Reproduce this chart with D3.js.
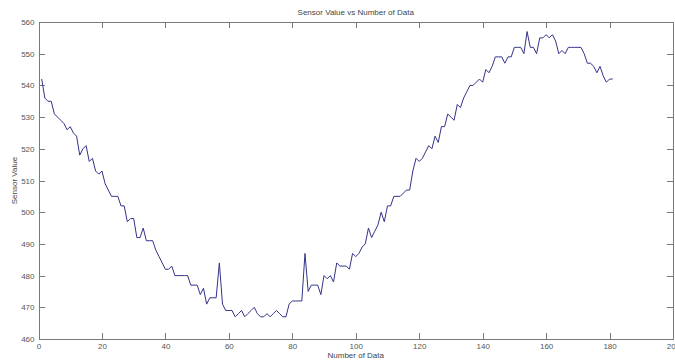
<!DOCTYPE html>
<html>
<head>
<meta charset="utf-8">
<script src="https://cdn.jsdelivr.net/npm/d3@7"></script>
<style>
  body { margin: 0; background: #fff; }
  svg { display: block; font-family: "Liberation Sans", Arial, sans-serif; }
  .axis path, .axis line { stroke: #7a7a7a; shape-rendering: crispEdges; }
  .axis text { fill: #555; font-size: 8px; }
</style>
</head>
<body>
<svg id="chart" width="675" height="361"></svg>
<script>
// sensor readings, sample 1..181
const sensorValues = [
  542, 536, 535, 535, 531, 530, 529, 528, 526, 527,
  525, 524, 518, 520, 521, 516, 517, 513, 512, 513,
  509, 507, 505, 505, 505, 502, 502, 497, 498, 498,
  492, 492, 495, 491, 491, 491, 488, 486, 484, 482,
  482, 483, 480, 480, 480, 480, 480, 477, 477, 477,
  474, 476, 471, 473, 473, 473, 484, 471, 469, 469,
  469, 467, 468, 469, 467, 468, 469, 470, 468, 467,
  467, 468, 467, 468, 469, 468, 467, 467, 471, 472,
  472, 472, 472, 487, 475, 477, 477, 477, 474, 480,
  479, 480, 478, 484, 483, 483, 483, 482, 487, 486,
  487, 489, 490, 495, 492, 494, 496, 500, 497, 502,
  502, 505, 505, 505, 506, 507, 507, 513, 517, 516,
  517, 519, 521, 520, 524, 522, 527, 527, 531, 530,
  529, 534, 533, 536, 538, 540, 540, 541, 542, 541,
  545, 544, 546, 549, 549, 549, 547, 549, 549, 552,
  552, 552, 550, 557, 552, 552, 550, 555, 555, 556,
  555, 556, 554, 550, 551, 550, 552, 552, 552, 552,
  552, 550, 547, 547, 546, 544, 546, 543, 541, 542,
  542
];
const xTicks = [0, 20, 40, 60, 80, 100, 120, 140, 160, 180, 200];
const yTicks = [460, 470, 480, 490, 500, 510, 520, 530, 540, 550, 560];
const titleText = "Sensor Value vs Number of Data";
const xLabel = "Number of Data";
const yLabel = "Sensor Value";

const margin = {top: 22, right: 2, bottom: 22, left: 38.5};
const width = 675 - margin.left - margin.right;
const height = 361 - margin.top - margin.bottom;

const svg = d3.select("#chart");
const g = svg.append("g")
  .attr("transform", "translate(" + margin.left + "," + margin.top + ")");

const x = d3.scaleLinear().domain([0, 200]).range([0, width]);
const y = d3.scaleLinear().domain([460, 560]).range([height, 0]);

// MATLAB style box: inward ticks on all four sides
g.append("g").attr("class", "axis")
  .attr("transform", "translate(0," + height + ")")
  .call(d3.axisBottom(x).tickValues(xTicks).tickSizeInner(-6).tickSizeOuter(0).tickPadding(4));
g.append("g").attr("class", "axis")
  .call(d3.axisTop(x).tickValues(xTicks).tickSizeInner(-6).tickSizeOuter(0).tickFormat(""));
g.append("g").attr("class", "axis")
  .call(d3.axisLeft(y).tickValues(yTicks).tickSizeInner(-6).tickSizeOuter(0).tickPadding(4));
g.append("g").attr("class", "axis")
  .attr("transform", "translate(" + width + ",0)")
  .call(d3.axisRight(y).tickValues(yTicks).tickSizeInner(-6).tickSizeOuter(0).tickFormat(""));

const line = d3.line()
  .x((d, i) => x(i + 1))
  .y(d => y(d));

g.append("path")
  .datum(sensorValues)
  .attr("fill", "none")
  .attr("stroke", "#33338a")
  .attr("stroke-width", 1)
  .attr("d", line);

svg.append("text")
  .attr("x", margin.left + width / 2)
  .attr("y", 15)
  .attr("text-anchor", "middle")
  .attr("font-size", "8px")
  .attr("fill", "#444")
  .text(titleText);

svg.append("text")
  .attr("x", margin.left + width / 2)
  .attr("y", 358)
  .attr("text-anchor", "middle")
  .attr("font-size", "8px")
  .attr("fill", "#444")
  .text(xLabel);

svg.append("text")
  .attr("transform", "translate(17," + (margin.top + height / 2) + ") rotate(-90)")
  .attr("text-anchor", "middle")
  .attr("font-size", "8px")
  .attr("fill", "#444")
  .text(yLabel);
</script>
</body>
</html>
